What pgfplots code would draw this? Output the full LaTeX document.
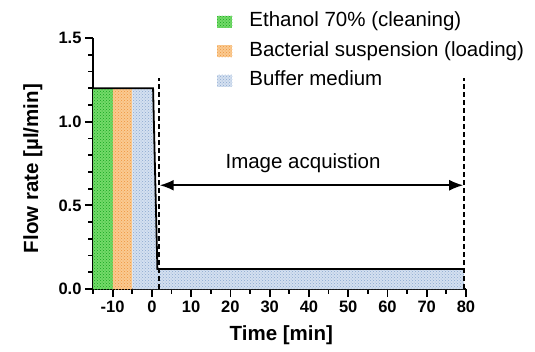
\documentclass[border=0pt]{standalone}
\usepackage{pgfplots}
\pgfplotsset{compat=1.18}
\usepackage{fontspec}
\setmainfont{Liberation Sans}
\usetikzlibrary{patterns,arrows.meta}
\definecolor{gbase}{RGB}{115,218,105}
\definecolor{gdot}{RGB}{20,165,30}
\definecolor{obase}{RGB}{250,202,145}
\definecolor{odot}{RGB}{238,148,60}
\definecolor{bbase}{RGB}{212,224,240}
\definecolor{bdot}{RGB}{140,168,208}
\begin{document}
\begin{tikzpicture}
\begin{axis}[
  name=ax,
  scale only axis,
  width=373pt, height=251pt,
  xmin=-15, xmax=80, ymin=0, ymax=1.5,
  axis lines=left,
  axis line style={line width=1.8pt, -},
  clip=false,
  xtick={-10,0,10,20,30,40,50,60,70,80},
  minor xtick={-15,-5,5,15,25,35,45,55,65,75},
  ytick={0,0.5,1,1.5},
  minor ytick={0.1,0.2,0.3,0.4,0.6,0.7,0.8,0.9,1.1,1.2,1.3,1.4},
  tick align=outside,
  major tick length=8pt, minor tick length=4.5pt,
  tick style={black, line width=1.8pt},
  /pgf/number format/assume math mode=true,
  ticklabel style={font=\bfseries\fontsize{16.5}{18}\selectfont},
  yticklabel style={/pgf/number format/fixed, /pgf/number format/precision=1, /pgf/number format/fixed zerofill},
  xlabel={Time [min]},
  ylabel={Flow rate [µl/min]},
  label style={font=\bfseries\fontsize{20.5}{22}\selectfont},
  xlabel style={at={(axis description cs:0.505,-0.183)}, anchor=center},
  ylabel style={at={(axis description cs:-0.161,0.48)}, anchor=center, rotate=0},
  legend image code/.code={\fill[#1] (0pt,-6pt) rectangle (15pt,6pt);},
  legend style={draw=none, fill=none, at={(axis description cs:0.333,1.105)}, anchor=north west,
    font=\fontsize{20.5}{22}\selectfont, row sep=10pt, column sep=17pt, inner sep=0pt,
    nodes={inner sep=0pt, text height=15pt, text depth=4.5pt}},
  legend cell align=left,
]
\addlegendimage{draw=none, fill=gbase, postaction={pattern=crosshatch dots, pattern color=gdot}}
\addlegendentry{Ethanol 70\% (cleaning)}
\addlegendimage{draw=none, fill=obase, postaction={pattern=crosshatch dots, pattern color=odot}}
\addlegendentry{Bacterial suspension (loading)}
\addlegendimage{draw=none, fill=bbase, postaction={pattern=crosshatch dots, pattern color=bdot}}
\addlegendentry{Buffer medium}

\addplot[draw=none, fill=gbase, postaction={pattern=crosshatch dots, pattern color=gdot}, forget plot]
  coordinates {(-15,1.2) (-10,1.2)} \closedcycle;
\addplot[draw=none, fill=obase, postaction={pattern=crosshatch dots, pattern color=odot}, forget plot]
  coordinates {(-10,1.2) (-5,1.2)} \closedcycle;
\addplot[draw=none, fill=bbase, postaction={pattern=crosshatch dots, pattern color=bdot}, forget plot]
  coordinates {(-5,1.2) (0.3,1.2) (1.4,0.12) (79.5,0.12)} \closedcycle;
\addplot[black, line width=1.8pt, forget plot]
  coordinates {(-15,1.2) (0.3,1.2) (1.4,0.12) (79.5,0.12)};
\addplot[black, line width=1.8pt, dash pattern=on 5pt off 3pt, forget plot]
  coordinates {(1.8,0) (1.8,1.26)};
\addplot[black, line width=1.8pt, dash pattern=on 5pt off 3pt, forget plot]
  coordinates {(79.5,0) (79.5,1.26)};
\addplot[black, line width=1.8pt, {Latex[length=14pt,width=11pt]}-{Latex[length=14pt,width=11pt]}, forget plot]
  coordinates {(2.0,0.62) (79.3,0.62)};
\node[font=\fontsize{20.5}{22}\selectfont] at (axis cs:38.5,0.75) {Image acquistion};
\end{axis}
\pgfresetboundingbox
\path[use as bounding box] ([xshift=-93pt,yshift=-62pt]ax.south west) rectangle ([xshift=442pt,yshift=289pt]ax.south west);
\end{tikzpicture}
\end{document}
